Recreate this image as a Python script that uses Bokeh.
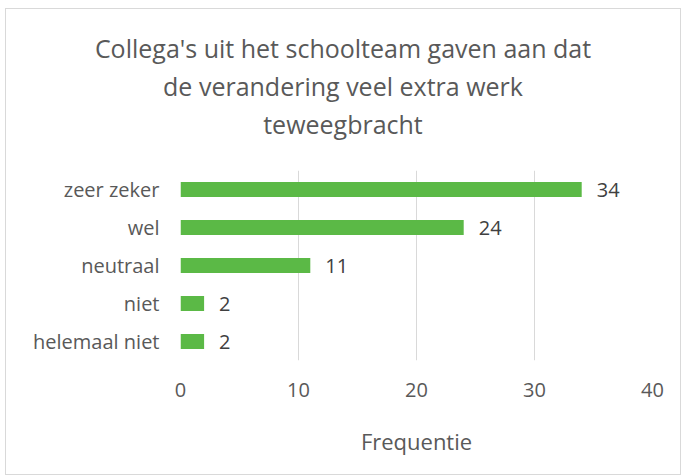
from bokeh.plotting import figure
from bokeh.models import Range1d, FixedTicker, ColumnDataSource, Div
from bokeh.layouts import column
from bokeh.core.properties import value
from bokeh.embed import file_html
from bokeh.resources import INLINE

categories = ["helemaal niet", "niet", "neutraal", "wel", "zeer zeker"]
values = [2, 2, 11, 24, 34]
x_ticks = [0, 10, 20, 30, 40]
title_lines = ["Collega's uit het schoolteam gaven aan dat",
               "de verandering veel extra werk",
               "teweegbracht"]
x_label = "Frequentie"

FONT = "Open Sans"
GREEN = "#5bb946"
GRAY = "#595959"
W, TOP_H, MAIN_H = 674, 161, 304

# --- title strip ---
title_html = ('<div style="width:%dpx;text-align:center;font-family:\'%s\';'
              'font-size:25px;line-height:38px;color:%s;padding-top:20px;'
              'margin:0;white-space:nowrap;">%s</div>'
              % (W, FONT, GRAY, "<br>".join(title_lines)))
t = Div(text=title_html, width=W, height=TOP_H, margin=0)

# --- bar chart ---
pos = list(range(len(categories)))
src = ColumnDataSource(dict(y=pos, v=values, t=[str(v) for v in values]))

p = figure(width=W, height=MAIN_H, output_backend="svg", toolbar_location=None,
           x_range=Range1d(0, 40), y_range=Range1d(-0.5, len(categories) - 0.5),
           min_border_left=174, min_border_right=W - 174 - 472, min_border_top=0,
           min_border_bottom=MAIN_H - 190)
p.outline_line_color = None

p.hbar(y="y", right="v", left=0, height=0.39, fill_color=GREEN,
       line_color=None, source=src)
p.text(x="v", y="y", text="t", source=src, x_offset=15, text_baseline="middle",
       text_font=value(FONT), text_font_size="20px", text_color="#404040")

p.xaxis.ticker = FixedTicker(ticks=x_ticks)
p.yaxis.ticker = FixedTicker(ticks=pos)
p.yaxis.major_label_overrides = {i: c for i, c in enumerate(categories)}
for ax in (p.xaxis, p.yaxis):
    ax.axis_line_color = None
    ax.major_tick_line_color = None
    ax.minor_tick_line_color = None
    ax.major_label_text_font = FONT
    ax.major_label_text_font_size = "20px"
    ax.major_label_text_color = GRAY
p.xaxis.major_label_standoff = 16
p.yaxis.major_label_standoff = 15
p.xaxis.axis_label = x_label
p.xaxis.axis_label_text_font = FONT
p.xaxis.axis_label_text_font_size = "22px"
p.xaxis.axis_label_text_font_style = "normal"
p.xaxis.axis_label_text_color = GRAY
p.xaxis.axis_label_standoff = 26

p.ygrid.grid_line_color = None
p.xgrid.grid_line_color = "#d9d9d9"
p.xgrid.grid_line_width = 1

layout = column(t, p, spacing=0)
layout.styles = {"border": "1px solid #d9d9d9", "margin-left": "5px",
                 "margin-top": "8px", "background-color": "white"}

open("out.html", "w").write(file_html(layout, INLINE))
